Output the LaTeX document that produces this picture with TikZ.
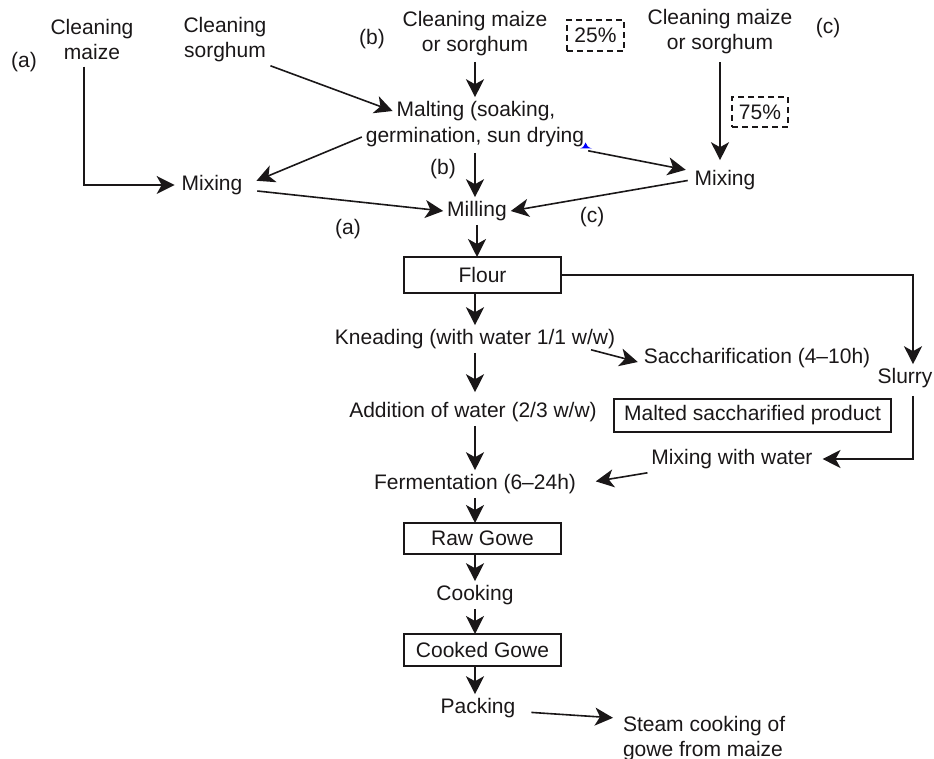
\documentclass[tikz,border=0pt]{standalone}
\usepackage{fontspec}
\setmainfont{Liberation Sans}
\usetikzlibrary{arrows.meta,calc}
\newcommand\dfont{\fontsize{21}{25}\selectfont}
\definecolor{ink}{HTML}{1A1718}
\tikzset{
  txt/.style={font=\dfont, text=ink, inner sep=4pt, outer sep=0pt},
  arr/.style={draw=ink, line width=1.6pt, -{Stealth[length=18pt,width=18pt,inset=5pt]}},
  boxn/.style={txt, draw=ink, line width=1.8pt, inner sep=0pt},
  dbox/.style={txt, draw=ink, line width=1.6pt, dash pattern=on 6pt off 4pt, inner sep=0pt}
}
\begin{document}
\begin{tikzpicture}[x=1pt,y=-1pt]
\useasboundingbox (0,0) rectangle (934,759);
% top row
\node[txt] (la) at (24,62) {(a)};
\node[txt,align=center] (cm) at (92,39.5) {Cleaning\\maize};
\node[txt,align=center] (cs) at (225,39.5) {Cleaning\\sorghum};
\node[txt] (lb) at (372,39) {(b)};
\node[txt,align=center] (cb) at (475,33.5) {Cleaning maize\\or sorghum};
\node[dbox,minimum width=57pt,minimum height=31pt] (p25) at (595.5,35.5) {25\%};
\node[txt,align=center] (cc) at (720,32) {Cleaning maize\\or sorghum};
\node[txt] (lc) at (828,28) {(c)};
\node[dbox,minimum width=56pt,minimum height=30pt] (p75) at (760,112) {75\%};
% malting
\node[txt] (malt) at (476,111) {Malting (soaking,};
\node[txt] (maltb) at (475,137) {germination, sun drying};
\fill[blue] (580,148.5) .. controls (583.5,147.5) and (584.5,145.5) .. (585.5,142.5)
  .. controls (586.5,145.5) and (588,147.5) .. (592,148.5) -- cycle;
\node[txt] (mixa) at (212,185) {Mixing};
\node[txt] (mixc) at (725,180) {Mixing};
\node[txt] (lb2) at (443,169) {(b)};
\node[txt] (mill) at (477,211) {Milling};
\node[txt] (la2) at (348,229) {(a)};
\node[txt] (lc2) at (592,217) {(c)};
% main column
\node[boxn,minimum width=157pt,minimum height=36pt] (flour) at (482.5,275) {Flour\hspace{15pt}};
\node[txt] (knead) at (475,339) {Kneading (with water 1/1 w/w)};
\node[txt] (sacch) at (757,358) {Saccharification (4–10h)};
\node[txt] (slurry) at (905,378) {Slurry};
\node[txt] (add) at (473,412) {Addition of water (2/3 w/w)};
\node[boxn,minimum width=277pt,minimum height=33pt] (msp) at (752.5,415.5) {Malted saccharified product};
\node[txt] (mww) at (732,459) {Mixing with water};
\node[txt] (ferm) at (475,484) {Fermentation (6–24h)};
\node[boxn,minimum width=157pt,minimum height=31pt] (raw) at (482.5,538.5) {Raw Gowe\hspace{15pt}};
\node[txt] (cook) at (475,595) {Cooking};
\node[boxn,minimum width=157pt,minimum height=32pt] (cgowe) at (482.5,650) {Cooked Gowe};
\node[txt] (pack) at (478,708) {Packing};
\node[txt,align=left,anchor=west] (steam) at (619,738.5) {Steam cooking of\\gowe from maize};
% connectors top
\draw[arr,shorten >=3pt] ($(cm.south)+(-8,3)$) |- (mixa.west);
\draw[arr] (cs.south east) -- (malt.west);
\draw[arr,shorten <=2pt] (cb.south) -- (cb.south |- malt.north);
\draw[arr,shorten <=4pt,shorten >=6pt] (cc.south) -- (cc.south |- mixc.north);
\draw[arr,shorten >=11pt] (maltb.west) -- (mixa.east);
\draw[arr,shorten >=5pt] (maltb.south east) -- (mixc.165);
\draw[arr,shorten <=2pt] (maltb.south) -- (maltb.south |- mill.north);
\draw[arr,shorten <=11pt] (mixa.-8) -- (mill.west);
\draw[arr,shorten <=3pt] (mixc.west) -- (mill.east);
% main column
\draw[arr] (mill.south) -- (mill.south |- flour.north);
\draw[arr] (flour.south -| knead.north) -- (knead.north);
\draw[arr,shorten >=6pt] (knead.south) -- (knead.south |- add.north);
\draw[arr] (add.south -| ferm.north) -- (ferm.north);
\draw[arr] (ferm.south) -- (ferm.south |- raw.north);
\draw[arr] (raw.south -| cook.north) -- (cook.north);
\draw[arr] (cook.south) -- (cook.south |- cgowe.north);
\draw[arr] (cgowe.south -| cook.south) -- (pack.north -| cook.south);
\draw[arr,shorten <=12pt,shorten >=6pt] (pack.-5) -- ($(steam.north west)+(0,6)$);
% side branch
\draw[arr] ($(knead.south east)+(-28,-3)$) -- ($(sacch.west)+(-2,4)$);
\draw[arr] (flour.east) -| ($(slurry.north)+(8,0)$);
\draw[arr,shorten >=6pt] ($(slurry.south)+(8,4)$) |- (mww.east);
\draw[arr,shorten >=16pt] (mww.south west) -- (ferm.east);
\end{tikzpicture}
\end{document}
